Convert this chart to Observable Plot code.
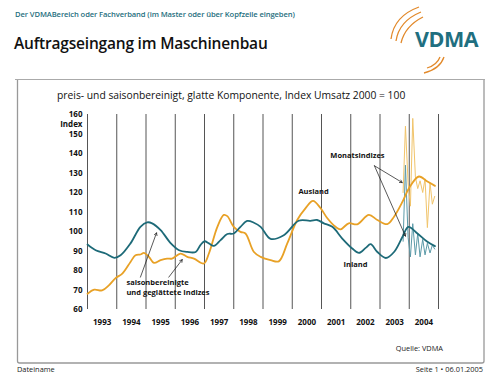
<!DOCTYPE html>
<html>
<head>
<meta charset="utf-8">
<script src="https://cdn.jsdelivr.net/npm/d3@7"></script>
<script src="https://cdn.jsdelivr.net/npm/@observablehq/plot@0.6"></script>
<style>
  html, body { margin: 0; padding: 0; background: #fff; }
  #page { position: relative; width: 500px; height: 375px; overflow: hidden; font-family: "Open Sans", "DejaVu Sans", sans-serif; }
  .abs { position: absolute; white-space: nowrap; }
  #chart { position: absolute; left: 0; top: 0; }
</style>
</head>
<body>
<div id="page">
  <div class="abs" style="left:15px;top:9px;font-size:7.6px;color:#1f6f80;font-weight:600;letter-spacing:-0.1px;">Der VDMABereich oder Fachverband (im Master oder über Kopfzeile eingeben)</div>
  <div class="abs" style="left:14px;top:32px;font-size:15.5px;color:#111;font-weight:600;letter-spacing:-0.2px;">Auftragseingang im Maschinenbau</div>
  <svg class="abs" style="left:0;top:0" width="500" height="375">
    <g fill="none" stroke="#e2892a" stroke-width="1.3">
      <path d="M391,39 Q394,16 419,7"/>
      <path d="M396,41 Q399,21 421,12"/>
      <path d="M401,43 Q405,26 423,17"/>
      <path d="M424,73 Q440,69 444,57"/>
      <path d="M427,68 Q437,65 440,57"/>
    </g>
    <text x="415" y="47" font-family="Open Sans, DejaVu Sans, sans-serif" font-weight="700" font-size="21.5" fill="#1f6f80" letter-spacing="-0.5">VDMA</text>
    <line x1="15" y1="79.5" x2="485" y2="79.5" stroke="#aaa" stroke-width="1"/>
    <path d="M17.5,80 V361 Q17.5,363 19.5,363 H482 Q484,363 484,361 V80" fill="none" stroke="#999" stroke-width="1.3"/>
  </svg>
  <div id="chart"></div>
  <div class="abs" style="left:57px;top:88px;font-size:10.3px;color:#111;">preis- und saisonbereinigt, glatte Komponente, Index Umsatz 2000 = 100</div>
  <div class="abs" style="right:57px;top:343px;font-size:7.4px;color:#222;">Quelle: VDMA</div>
  <div class="abs" style="left:17px;top:364px;font-size:7.4px;color:#222;">Dateiname</div>
  <div class="abs" style="right:17px;top:364px;font-size:7.4px;color:#222;">Seite 1 • 06.01.2005</div>
</div>
<script>
// ---- Data ----
const yearBoundaries = [1993,1994,1995,1996,1997,1998,1999,2000,2001,2002,2003,2004,2005];
const yearLabelPos = [1993.5,1994.5,1995.5,1996.5,1997.5,1998.5,1999.5,2000.5,2001.5,2002.5,2003.5,2004.5];
const yTicks = [60,70,80,90,100,110,120,130,140,150,160];

// smoothed series (Inland = teal, Ausland = orange)
const inlandX = [1993.0,1993.28,1993.62,1993.92,1994.13,1994.47,1994.81,1995.04,1995.21,1995.5,1995.85,1996.13,1996.41,1996.7,1996.86,1997.0,1997.15,1997.32,1997.55,1997.78,1998.0,1998.23,1998.46,1998.69,1998.92,1999.26,1999.71,2000.22,2000.62,2000.85,2001.08,2001.37,2001.71,2002.05,2002.28,2002.51,2002.68,2002.91,2003.2,2003.48,2003.77,2003.97,2004.28,2004.62,2004.88];
const inlandY = [93.3,90.4,88.7,86.5,87.8,93.9,102.4,104.7,104.2,100.7,93.9,90.4,89.5,89.5,93,95,93.9,92.6,95.6,98.7,99,102.4,105.4,104.5,102.4,96.2,98.1,105.5,105.5,105.9,104.2,102.4,96.4,91.3,89,91.6,93.5,89.5,86.4,89.5,97.3,102.4,99,94.7,92.5];

const auslandX = [1993.0,1993.23,1993.5,1993.73,1993.96,1994.19,1994.47,1994.64,1994.81,1994.93,1995.1,1995.27,1995.5,1995.72,1995.89,1996.18,1996.41,1996.64,1996.98,1997.15,1997.44,1997.66,1997.78,1998.0,1998.23,1998.4,1998.69,1998.92,1999.26,1999.54,1999.83,2000.17,2000.45,2000.71,2000.97,2001.2,2001.48,2001.65,2001.93,2002.22,2002.62,2002.91,2003.25,2003.48,2003.77,2003.99,2004.33,2004.62,2004.88];
const auslandY = [68.1,70.2,69.8,72.4,76.1,78.4,84.4,87.8,88.2,89,87,83.9,85.3,86.1,86.1,88.7,87,86.1,83.6,88.7,102.4,108.5,107.9,102.4,99.8,99,89.5,87,85.3,84.7,93.9,105.9,111.9,115.7,111.9,106.8,102.4,101.1,104.2,103.7,108.5,105.9,103.8,107.6,115.3,122.2,128.2,125.6,123.4];

// monthly indices
const monthX = [2003.79,2003.87,2003.96,2004.04,2004.12,2004.21,2004.29,2004.37,2004.46,2004.54,2004.62,2004.71,2004.79,2004.87];
const auslandMonthY = [120,154,125,113,158,128,122,126,120,127,102,125,114,118];
const inlandMonthY = [95,134,97,87,104,88,99,87,96,88,94,89,93,91];

// annotations
const centerLabelText = ["Ausland","Inland","Monatsindizes"];
const centerLabelX = [2000.73,2002.16,2002.23];
const centerLabelY = [120.3,83.2,139];
const leftLabelText = ["saisonbereinigte","und geglättete Indizes"];
const leftLabelX = [1994.33,1994.33];
const leftLabelY = [73.9,68.9];
const arrowX1 = [2002.81,2002.81,1994.81,1995.78];
const arrowY1 = [133.7,133.7,76.6,76.6];
const arrowX2 = [2003.76,2003.87,1995.36,1996.24];
const arrowY2 = [125.1,97.6,99.3,85.6];

// ---- Build tables ----
const inland = inlandX.map((x,i) => ({x, y: inlandY[i]}));
const ausland = auslandX.map((x,i) => ({x, y: auslandY[i]}));
const auslandM = monthX.map((x,i) => ({x, y: auslandMonthY[i]}));
const inlandM = monthX.map((x,i) => ({x, y: inlandMonthY[i]}));
const centerLabels = centerLabelText.map((t,i) => ({t, x: centerLabelX[i], y: centerLabelY[i]}));
const leftLabels = leftLabelText.map((t,i) => ({t, x: leftLabelX[i], y: leftLabelY[i]}));
const arrows = arrowX1.map((x1,i) => ({x1, y1: arrowY1[i], x2: arrowX2[i], y2: arrowY2[i]}));

const TEAL = "#1d6a78", ORANGE = "#e8a126";
const font = "Open Sans, DejaVu Sans, sans-serif";

const chart = Plot.plot({
  width: 500,
  height: 375,
  marginLeft: 87,
  marginRight: 62,
  marginTop: 114,
  marginBottom: 66,
  style: {fontFamily: font, fontSize: "8px", background: "transparent", color: "#111"},
  x: {domain: [1993, 2005]},
  y: {domain: [60, 160]},
  marks: [
    Plot.ruleX(yearBoundaries, {x: d => d, y1: 60, y2: 160, stroke: "#555", strokeWidth: 1}),
    Plot.axisY({ticks: yTicks, tickSize: 0, tickPadding: 5, fontWeight: "bold", fontSize: 8, label: null}),
    Plot.axisX({ticks: yearLabelPos, tickSize: 0, tickPadding: 10, tickFormat: d => String(Math.floor(d)), fontWeight: "bold", fontSize: 8, label: null}),
    Plot.text(["Index"], {x: 1993, y: 155, text: d => d, textAnchor: "end", dx: -5, fontWeight: "bold", fontSize: 8}),
    Plot.line(auslandM, {x: "x", y: "y", stroke: "#f1c46a", strokeWidth: 1}),
    Plot.line(inlandM, {x: "x", y: "y", stroke: "#5b9aa8", strokeWidth: 1}),
    Plot.line(ausland, {x: "x", y: "y", stroke: ORANGE, strokeWidth: 1.8, curve: "catmull-rom"}),
    Plot.line(inland, {x: "x", y: "y", stroke: TEAL, strokeWidth: 1.8, curve: "catmull-rom"}),
    Plot.arrow(arrows, {x1: "x1", y1: "y1", x2: "x2", y2: "y2", stroke: "#111", strokeWidth: 0.7, headLength: 6}),
    Plot.text(centerLabels, {x: "x", y: "y", text: "t", textAnchor: "middle", fontWeight: "bold", fontSize: 7.5, fill: "#111"}),
    Plot.text(leftLabels, {x: "x", y: "y", text: "t", textAnchor: "start", fontWeight: "bold", fontSize: 7.5, fill: "#111"})
  ]
});
document.getElementById("chart").appendChild(chart);
</script>
</body>
</html>
